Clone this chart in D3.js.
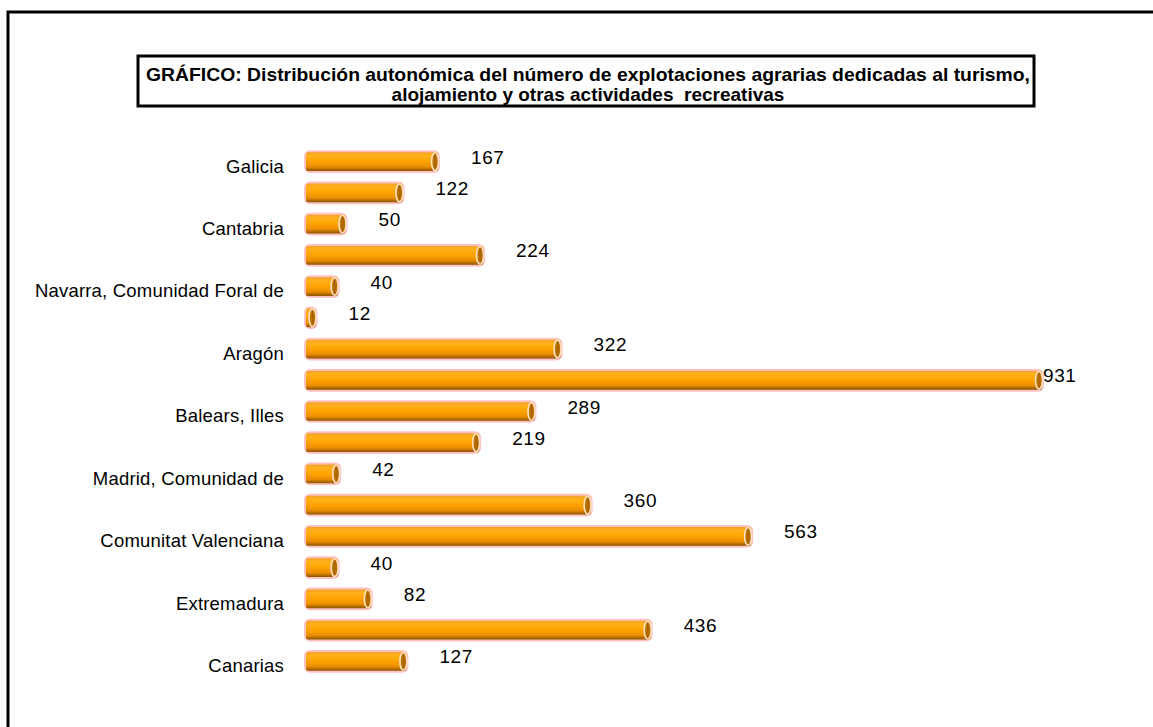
<!DOCTYPE html>
<html>
<head>
<meta charset="utf-8">
<script src="https://cdn.jsdelivr.net/npm/d3@7"></script>
<style>
  body { margin: 0; background: #fff; }
  text { font-family: "Liberation Sans", Arial, sans-serif; }
</style>
</head>
<body>
<svg id="chart" width="1153" height="727"></svg>
<script>
// regions in chart order (only every other one gets an axis label)
const regions = [
  "Galicia", "Asturias, Principado de", "Cantabria", "País Vasco",
  "Navarra, Comunidad Foral de", "Rioja, La", "Aragón", "Cataluña",
  "Balears, Illes", "Castilla y León", "Madrid, Comunidad de",
  "Castilla - La Mancha", "Comunitat Valenciana", "Murcia, Región de",
  "Extremadura", "Andalucía", "Canarias"
];
const explotaciones = [167, 122, 50, 224, 40, 12, 322, 931, 289, 219, 42, 360, 563, 40, 82, 436, 127];
const titleLines = [
  "GRÁFICO: Distribución autonómica del número de explotaciones agrarias dedicadas al turismo,",
  "alojamiento y otras actividades  recreativas"
];

const width = 1153, height = 727;
const margin = { top: 146, right: 111, bottom: 50, left: 306 };

const svg = d3.select("#chart");

// outer frame (runs off the right and bottom of the picture)
svg.append("rect")
  .attr("x", 8).attr("y", 12)
  .attr("width", 1200).attr("height", 800)
  .attr("fill", "none")
  .attr("stroke", "#000")
  .attr("stroke-width", 3);

// title box
svg.append("rect")
  .attr("x", 138).attr("y", 56)
  .attr("width", 896).attr("height", 50)
  .attr("fill", "#fff")
  .attr("stroke", "#000")
  .attr("stroke-width", 3);

svg.selectAll(".title")
  .data(titleLines)
  .join("text")
  .attr("class", "title")
  .attr("x", 588)
  .attr("y", (d, i) => 81 + i * 20)
  .attr("text-anchor", "middle")
  .attr("textLength", (d, i) => i === 0 ? 884 : null)
  .attr("lengthAdjust", "spacingAndGlyphs")
  .style("font-size", "19px")
  .style("font-weight", "bold")
  .style("white-space", "pre")
  .text(d => d);

const data = regions.map((r, i) => ({ region: r, value: explotaciones[i] }));

const x = d3.scaleLinear()
  .domain([0, d3.max(explotaciones)])
  .range([margin.left, width - margin.right]);

const y = d3.scaleBand()
  .domain(regions)
  .range([margin.top, height - margin.bottom])
  .paddingInner(0.4)
  .paddingOuter(0.2);

// gradients for the cylinder bars
const defs = svg.append("defs");
const body = defs.append("linearGradient")
  .attr("id", "barBody")
  .attr("x1", 0).attr("y1", 0).attr("x2", 0).attr("y2", 1);
[[0, "#f2a12a"], [0.18, "#ffb21a"], [0.5, "#ffa200"], [0.78, "#e88d00"], [1, "#8c5300"]]
  .forEach(([o, c]) => body.append("stop").attr("offset", o).attr("stop-color", c));

const cap = defs.append("linearGradient")
  .attr("id", "barCap")
  .attr("x1", 0).attr("y1", 0).attr("x2", 1).attr("y2", 0);
[[0, "#d98600"], [0.5, "#a86400"], [1, "#c77a00"]]
  .forEach(([o, c]) => cap.append("stop").attr("offset", o).attr("stop-color", c));

const bh = y.bandwidth();

const bars = svg.append("g")
  .selectAll("g")
  .data(data)
  .join("g");

// pink glow outline
bars.append("rect")
  .attr("x", x(0))
  .attr("y", d => y(d.region))
  .attr("width", d => x(d.value) - x(0))
  .attr("height", bh)
  .attr("rx", 4)
  .attr("fill", "none")
  .attr("stroke", "#ffc2c2")
  .attr("stroke-width", 4);

bars.append("rect")
  .attr("x", x(0))
  .attr("y", d => y(d.region))
  .attr("width", d => x(d.value) - x(0))
  .attr("height", bh)
  .attr("rx", 2)
  .attr("fill", "url(#barBody)");

bars.append("ellipse")
  .attr("cx", d => x(d.value) - 3)
  .attr("cy", d => y(d.region) + bh / 2)
  .attr("rx", 3.5)
  .attr("ry", bh / 2 - 0.5)
  .attr("fill", "url(#barCap)")
  .attr("stroke", "#ffe2c4")
  .attr("stroke-width", 1.6);

// value labels: outside the bar end, but kept inside the plot for the longest bar
const plotRight = width - margin.right;
svg.append("g")
  .selectAll("text")
  .data(data)
  .join("text")
  .attr("x", d => x(d.value) + 31 > plotRight ? x(d.value) + 1 : x(d.value) + 33)
  .attr("y", d => y(d.region) + bh / 2 + 2)
  .style("font-size", "19px")
  .style("letter-spacing", "0.6px")
  .attr("fill", "#000")
  .text(d => d.value);

// category axis, every second region labelled
svg.append("g")
  .attr("transform", `translate(${x(0) - 22},5)`)
  .call(d3.axisLeft(y).tickSize(0).tickPadding(0)
    .tickFormat((d, i) => i % 2 === 0 ? d : ""))
  .call(g => g.select(".domain").remove())
  .call(g => g.selectAll("text")
    .style("font-size", "18.5px")
    .style("letter-spacing", "0.2px")
    .style("font-family", "'Liberation Sans', Arial, sans-serif")
    .attr("fill", "#000"));
</script>
</body>
</html>
